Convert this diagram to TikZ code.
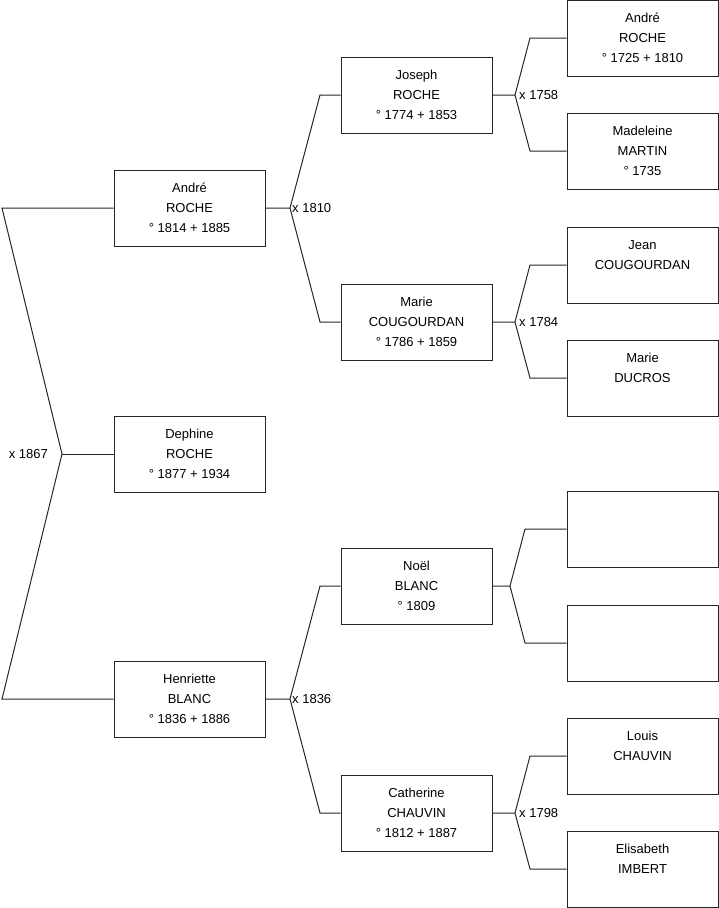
\documentclass[tikz,border=0pt]{standalone}
\usepackage{fontspec}
\setmainfont{Liberation Sans}
\usetikzlibrary{positioning}

\newcommand{\gen}[3]{\strut #1\\\strut #2\\\strut #3}

\begin{document}
\begin{tikzpicture}[x=1pt,y=-1pt,font=\fontsize{13}{20}\selectfont,
link/.style={draw=black!85,line width=1pt},
pers/.style={draw=black!85,line width=1pt,minimum width=151pt,minimum height=76pt,inner sep=0pt,align=center},
mar/.style={inner sep=2pt}]
\useasboundingbox (0,0) rectangle (719,908);
% generation 1
\node[pers] (andre1) at (189.5,208) {\gen{André}{ROCHE}{° 1814 + 1885}};
\node[pers] (dephine) at (189.5,454) {\gen{Dephine}{ROCHE}{° 1877 + 1934}};
\node[pers] (henriette) at (189.5,699) {\gen{Henriette}{BLANC}{° 1836 + 1886}};
% generation 2
\node[pers] (joseph) at (416.5,95) {\gen{Joseph}{ROCHE}{° 1774 + 1853}};
\node[pers] (marie1) at (416.5,322) {\gen{Marie}{COUGOURDAN}{° 1786 + 1859}};
\node[pers] (noel) at (416.5,586) {\gen{Noël}{BLANC}{° 1809}};
\node[pers] (catherine) at (416.5,813) {\gen{Catherine}{CHAUVIN}{° 1812 + 1887}};
% generation 3
\node[pers] (andre2) at (642.5,38) {\gen{André}{ROCHE}{° 1725 + 1810}};
\node[pers] (madeleine) at (642.5,151) {\gen{Madeleine}{MARTIN}{° 1735}};
\node[pers] (jean) at (642.5,265) {\gen{Jean}{COUGOURDAN}{}};
\node[pers] (marie2) at (642.5,378) {\gen{Marie}{DUCROS}{}};
\node[pers] (e1) at (642.5,529) {};
\node[pers] (e2) at (642.5,643) {};
\node[pers] (louis) at (642.5,756) {\gen{Louis}{CHAUVIN}{}};
\node[pers] (elisabeth) at (642.5,869) {\gen{Elisabeth}{IMBERT}{}};

\coordinate (j0) at (62,454);
\coordinate (j1) at (290,208);
\coordinate (j2) at (290,699);
\coordinate (j3) at (515,95);
\coordinate (j4) at (515,322);
\coordinate (j5) at (510,586);
\coordinate (j6) at (515,813);

\draw[link] (andre1.west) -- (andre1.west -| 2,0) -- (j0) -- (henriette.west -| 2,0) -- (henriette.west);
\draw[link] (j0) -- (dephine.west);
\foreach \p/\a/\b/\j/\bx in {andre1/joseph/marie1/j1/320, henriette/noel/catherine/j2/320,
  joseph/andre2/madeleine/j3/530, marie1/jean/marie2/j4/530,
  noel/e1/e2/j5/525, catherine/louis/elisabeth/j6/530}
  \draw[link] (\p.east) -- (\j) -- (\a.west -| \bx,0) -- (\a.west)
        (\j) -- (\b.west -| \bx,0) -- (\b.west);

\node[mar,left=12pt of j0] (m1867) {x 1867};
\node[mar,right=0pt of j1] (m1810) {x 1810};
\node[mar,right=0pt of j2] (m1836) {x 1836};
\node[mar,right=2pt of j3] (m1758) {x 1758};
\node[mar,right=2pt of j4] (m1784) {x 1784};
\node[mar,right=2pt of j6] (m1798) {x 1798};
\end{tikzpicture}
\end{document}
